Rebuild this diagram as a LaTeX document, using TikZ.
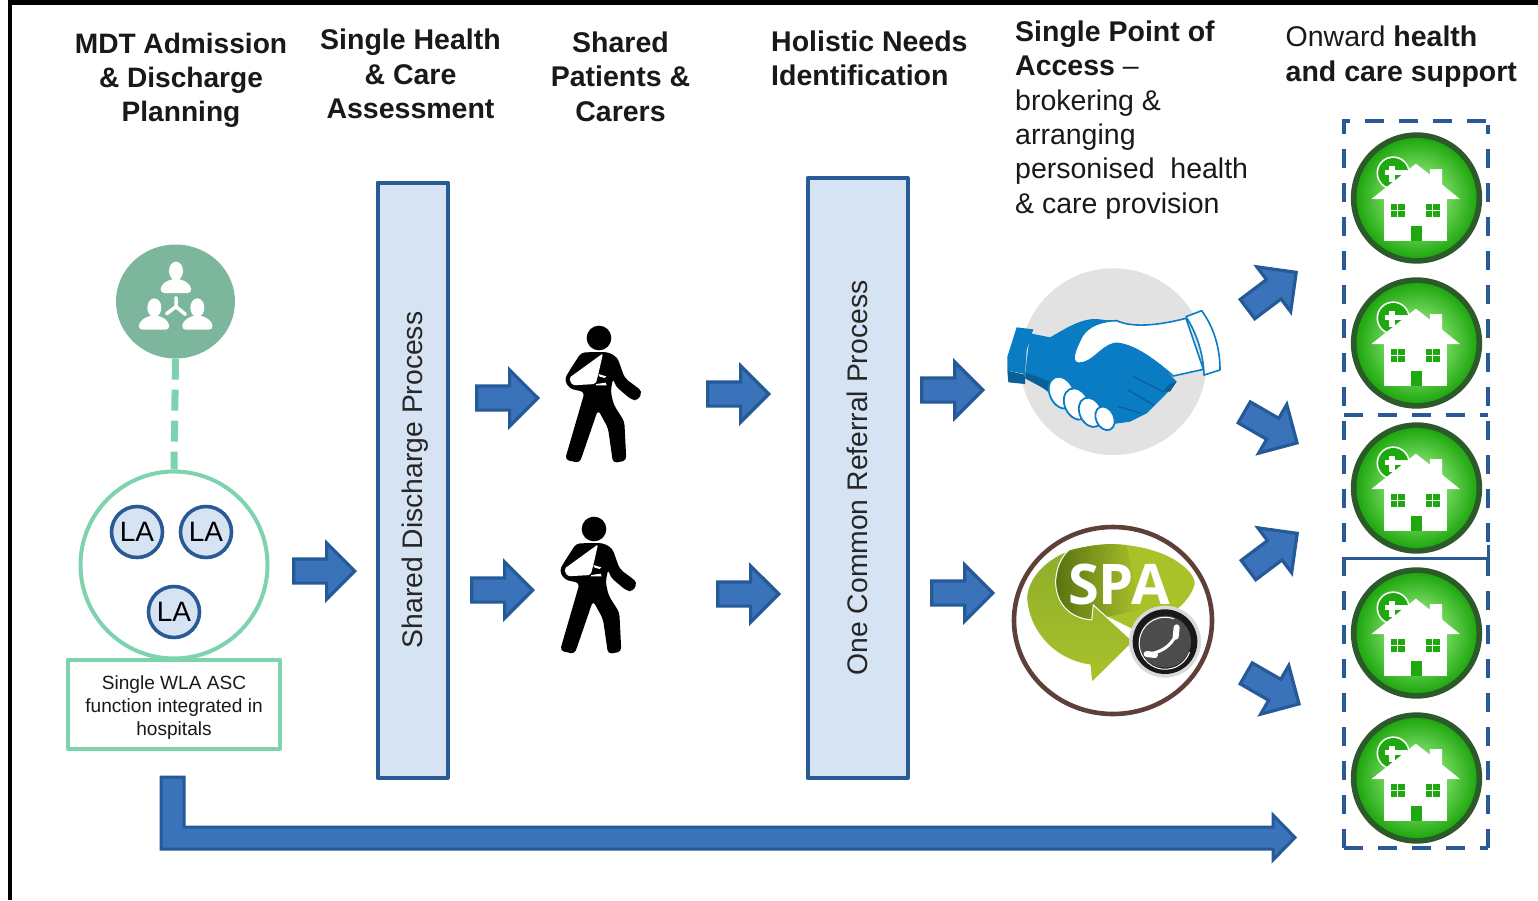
\documentclass[tikz,border=0pt]{standalone}
\usepackage{fontspec}
\setmainfont{Liberation Sans}
\newfontfamily\spafont{Open Sans}
\usetikzlibrary{shapes.arrows,shapes.geometric}
\definecolor{arrowfill}{HTML}{3A73BA}
\definecolor{arrowline}{HTML}{245A97}
\definecolor{barfill}{HTML}{D6E3F3}
\definecolor{barline}{HTML}{2A5A96}
\definecolor{mint}{HTML}{7DD3AE}
\definecolor{teamgreen}{HTML}{7CB69C}
\definecolor{shakeblue}{HTML}{0A7CC4}
\definecolor{shakedark}{HTML}{0B5F96}
\definecolor{shakegrey}{HTML}{E2E2E2}
\definecolor{spabrown}{HTML}{5E4038}
\definecolor{spalight}{HTML}{A9C22A}
\definecolor{spamid}{HTML}{8FAD2A}
\definecolor{spadark}{HTML}{566F10}
\definecolor{housegreen}{HTML}{1FA80F}
\definecolor{houseedge}{HTML}{2D5A2A}
\definecolor{houseglow}{HTML}{74D85E}
\pgfdeclareradialshading{homeglow}{\pgfpoint{0bp}{0bp}}{color(0bp)=(houseglow); color(12bp)=(houseglow); color(25bp)=(housegreen); color(50bp)=(housegreen)}
\tikzset{
  blockarrow/.style={single arrow,draw=arrowline,fill=arrowfill,line width=3.2pt,
    minimum height=61pt,minimum width=0pt,single arrow head extend=16pt,
    single arrow tip angle=90,inner xsep=0pt,inner ysep=10.5pt,anchor=tip},
  bar/.style={draw=barline,fill=barfill,line width=4pt,line join=round},
  bartext/.style={rotate=90,font=\fontsize{28.3}{32}\selectfont,text=black!85},
  heading/.style={font=\fontsize{28.5}{34.4}\selectfont\bfseries,align=center,text=black!90},
  leftheading/.style={font=\fontsize{28.5}{34.4}\selectfont,align=left,anchor=north west,text=black!90,inner sep=0pt},
  lacircle/.style={circle,draw=barline,fill=barfill,line width=3.6pt,minimum size=51pt,inner sep=0pt,font=\fontsize{28}{32}\selectfont},
  dashrun/.style={draw=barline,line width=4pt,dash pattern=on 19pt off 15pt},
  homeicon/.pic={
    \begin{scope}[scale=1/3,shift={(-260,-265)}]
      \fill[houseedge] (260,265) circle (197);
      \shade[shading=homeglow] (260,265) circle (180);
      \fill[white] (190,190) circle (50);
      \fill[housegreen] (190,190) circle (45);
      \fill[white] (166,180) rectangle (232,197);
      \fill[white] (178,168) rectangle (195,216);
      \fill[white] (125,268) -- (258,162) -- (300,195) -- (300,178) -- (337,178) -- (337,225) -- (390,268) -- cycle;
      \fill[white] (163,268) rectangle (350,395);
      \fill[housegreen] (182,282) rectangle (224,323);
      \fill[housegreen] (288,282) rectangle (330,323);
      \fill[white] (201.5,282) rectangle (204.5,323);
      \fill[white] (182,301) rectangle (224,304);
      \fill[white] (307.5,282) rectangle (310.5,323);
      \fill[white] (288,301) rectangle (330,304);
      \fill[housegreen] (244,348) rectangle (277,393);
    \end{scope}
  },
  walker/.pic={
    \begin{scope}[scale=1/3,shift={(-148,-70)}]
      \fill[black] (148,70) circle (37);
      \fill[black,rounded corners=4pt] (95,113) -- (175,112) -- (203,128) -- (225,190) -- (278,230) -- (264,258) -- (245,255) -- (198,215) -- (190,190) -- (183,230) -- (192,270) -- (224,320) -- (230,438) -- (190,445) -- (175,340) -- (145,285) -- (90,445) -- (46,435) -- (105,232) -- (60,222) -- (44,195) -- (58,170) -- cycle;
      \fill[white,rounded corners=2pt] (160,116) -- (58,190) -- (68,212) -- (138,208) -- (146,178) -- cycle;
      \fill[white] (146,178) -- (170,185) -- (165,190) -- (150,186) -- cycle;
      \fill[white] (140,208) -- (168,204) -- (171,212) -- (138,212) -- cycle;
    \end{scope}
  }
}
\begin{document}
\begin{tikzpicture}[x=1pt,y=-1pt]
\useasboundingbox (0,0) rectangle (1538,900);
\fill[white] (0,0) rectangle (1538,900);
% page frame
\fill[black] (8,0) rectangle (1538,5);
\fill[black] (8,0) rectangle (12,900);

% headings
\node[heading,font=\fontsize{28.1}{34.2}\selectfont\bfseries] (h1) at (181,80.5) {MDT Admission\\\& Discharge\\Planning};
\node[heading] (h2) at (410.5,74) {Single Health\\\& Care\\Assessment};
\node[heading] (h3) at (620.5,76.5) {Shared\\Patients \&\\Carers};
\node[leftheading] (h4) at (771,30.5) {\textbf{Holistic Needs}\\\textbf{Identification}};
\node[leftheading] (h5) at (1015,20.5) {\textbf{Single Point of}\\\textbf{Access} –\\brokering \&\\arranging\\personised~ health\\\& care provision};
\node[leftheading] (h6) at (1285.5,26) {Onward \textbf{health}\\\textbf{and care support}};

% MDT column
\node[ellipse,fill=teamgreen,minimum width=119pt,minimum height=114pt,inner sep=0pt] (team) at (175.5,301.5) {};
\begin{scope}[shift={(100,235)},scale=1/3,white]
  \fill (228,108) ellipse (21 and 28);
  \fill[rounded corners=4pt] (181,174) -- (183,150) -- (212,132) -- (244,132) -- (272,150) -- (275,174) -- cycle;
  \fill (163,218) ellipse (21 and 28);
  \fill[rounded corners=4pt] (115,284) -- (118,260) -- (146,242) -- (180,242) -- (206,260) -- (209,284) -- cycle;
  \fill (292,218) ellipse (21 and 28);
  \fill[rounded corners=4pt] (245,284) -- (248,260) -- (276,242) -- (308,242) -- (336,260) -- (339,284) -- cycle;
  \draw[line width=3.5pt,line cap=round] (228,188) -- (228,215) -- (200,236) (228,215) -- (256,238);
\end{scope}
\node[circle,draw=mint,fill=white,line width=4pt,minimum size=187pt,inner sep=0pt] (wla) at (174,565) {};
\draw[draw=mint,line width=7pt,dash pattern=on 21pt off 10pt] (team.south) -- (wla.north);
\node[lacircle] (la1) at (137,532) {LA};
\node[lacircle] (la2) at (206,532) {LA};
\node[lacircle] (la3) at (174,612) {LA};
\node[draw=mint,fill=white,line width=4pt,line join=round,minimum width=212pt,minimum height=89pt,inner sep=0pt,align=center,font=\fontsize{19.1}{23}\selectfont,text=black!90] (wlabox) at (174,704) {\rule{0pt}{20pt}Single WLA ASC\\function integrated in\\hospitals};

% process bars
\node[bar,minimum width=70pt,minimum height=595pt,inner sep=0pt] (sdp) at (412.5,480) {};
\node[bartext] (sdptext) at (415,480) {Shared Discharge Process};
\node[bar,minimum width=100pt,minimum height=600pt,inner sep=0pt] (ocr) at (857.5,478) {};
\node[bartext] (ocrtext) at (857.5,478) {One Common Referral Process};

% walkers
\pic at (599,338) {walker};
\pic at (594,529) {walker};

% block arrows
\node[blockarrow] (a1) at (357,571) {};
\node[blockarrow] (a2) at (540,398) {};
\node[blockarrow] (a3) at (535,590) {};
\node[blockarrow] (a4) at (771,394) {};
\node[blockarrow] (a5) at (781,594) {};
\node[blockarrow] (a6) at (985,390) {};
\node[blockarrow] (a7) at (995,593) {};
\node[blockarrow,rotate=37] (a8) at (1298,271) {};
\node[blockarrow,rotate=-30] (a9) at (1299,444) {};
\node[blockarrow,rotate=37] (a10) at (1299,532) {};
\node[blockarrow,rotate=-30] (a11) at (1301,705) {};

% handshake
\begin{scope}[shift={(1000,250)},scale=1/3]
  \fill[shakegrey] (340,335) circle (280);
  \fill[shakeblue] (90,250) -- (150,262) .. controls (190,240) and (240,205) .. (290,207) -- (360,215) -- (530,395) -- (500,430) -- (440,490) -- (390,515) -- (340,522) -- (150,430) -- (75,375) -- cycle;
  \fill[shakedark] (78,368) -- (165,400) -- (150,425) -- (75,385) -- cycle;
  \fill[shakeblue] (50,232) -- (100,238) -- (80,300) -- (75,372) -- (22,362) -- (22,320) -- cycle;
  \fill[shakedark] (22,362) -- (75,374) -- (75,402) -- (25,397) -- cycle;
  \draw[shakeblue,fill=white,line width=1.6pt,line join=round] (350,212) .. controls (400,235) and (480,225) .. (558,205) -- (610,358) -- (520,378) .. controls (470,335) and (400,280) .. (345,280) .. controls (300,290) and (280,340) .. (235,340) .. controls (210,335) and (225,300) .. (245,260) .. controls (265,225) and (310,212) .. cycle;
  \draw[shakeblue,fill=white,line width=1.6pt,line join=round] (558,200) -- (605,182) .. controls (640,230) and (660,290) .. (660,360) -- (612,375) .. controls (610,310) and (590,250) .. cycle;
  \draw[shakedark,line width=1.3pt,line cap=round] (400,380) -- (490,425) (385,420) -- (460,465) (355,470) -- (425,490);
  \fill[shakedark] (510,400) -- (530,395) -- (510,425) -- (490,425) -- cycle;
  \foreach \fx/\fy/\ra/\rb in {185/428/36/50,230/462/36/49,272/487/33/46,315/505/27/37}
    \draw[shakeblue,fill=white,line width=1.8pt,rotate around={25:(\fx,\fy)}] (\fx,\fy) ellipse (\ra*1pt and \rb*1pt);
\end{scope}

% SPA logo
\node[ellipse,draw=spabrown,fill=white,line width=4.6pt,minimum width=198pt,minimum height=187pt,inner sep=0pt] (spa) at (1113,620.5) {};
\begin{scope}[shift={(1000,510)},scale=1/3]
  \fill[spalight,draw=white,line width=1pt] (205,122) .. controls (300,90) and (430,95) .. (520,145) .. controls (570,175) and (590,205) .. (585,225) .. controls (575,260) and (550,285) .. (530,300) -- (420,370) -- (280,300) -- cycle;
  \shade[left color=spadark,right color=spalight,draw=none] (205,122) .. controls (290,100) and (330,100) .. (380,105) -- (420,300) -- (275,330) .. controls (200,320) and (155,270) .. (170,195) .. controls (175,160) and (190,135) .. cycle;
  \shade[top color=spamid,bottom color=spalight,draw=white,line width=1pt] (205,122) .. controls (130,150) and (80,210) .. (80,265) .. controls (85,360) and (160,450) .. (270,465) -- (275,518) -- (400,395) -- (280,285) -- (275,330) .. controls (210,325) and (165,280) .. (167,210) .. controls (170,170) and (185,140) .. cycle;
  \fill[black!15] (495,395) circle (108);
  \fill[black!90] (495,395) circle (97);
  \fill[black!70] (495,395) circle (78);
  \draw[white,line width=1pt] (420,420) arc (165:20:78);
  \draw[white,line width=1pt] (420,420) arc (165:290:78);
  \draw[white,line width=3pt,line cap=round] (448,432) .. controls (495,425) and (525,395) .. (530,362);
  \draw[white,line width=6pt,line cap=round] (440,432) -- (465,435) (530,352) -- (527,380);
\end{scope}
\node[font=\spafont\bfseries\fontsize{56}{60}\selectfont,text=white,inner sep=0pt] (spatext) at (1119,584) {SPA};

% homes
\pic at (1416.5,198) {homeicon};
\pic at (1416.5,343) {homeicon};
\pic at (1416.5,488) {homeicon};
\pic at (1416.5,633) {homeicon};
\pic at (1416.5,778) {homeicon};

% dashed groups
\draw[dashrun] (1344,848) -- (1344,121) -- (1488,121);
\draw[dashrun] (1488,848) -- (1488,125);
\draw[dashrun] (1344,848) -- (1488,848);
\draw[dashrun] (1344,414.5) -- (1488,414.5);
\draw[draw=barline,line width=3pt] (1344,572) -- (1344,558) -- (1488,558) -- (1488,545);

% long arrow
\draw[draw=arrowline,fill=arrowfill,line width=3pt,line join=miter] (161,777) -- (184,777) -- (184,827) -- (1273,827) -- (1273,815) -- (1295,837.5) -- (1273,860) -- (1273,849) -- (161,849) -- cycle;
\end{tikzpicture}
\end{document}
